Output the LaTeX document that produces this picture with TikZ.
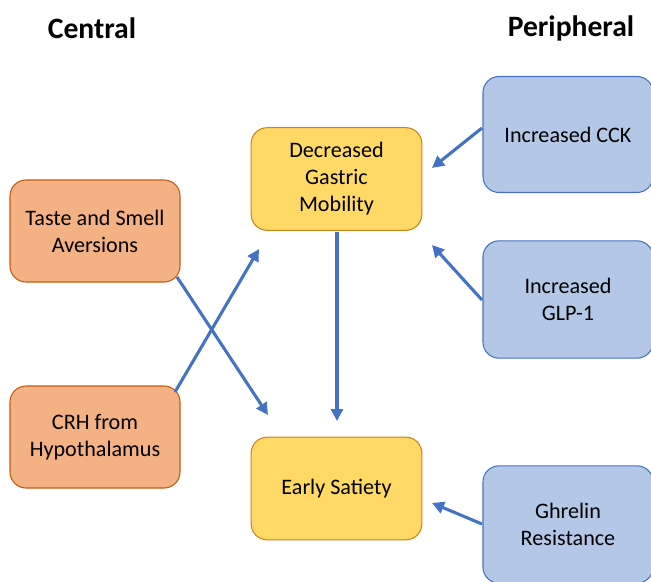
\documentclass[tikz,border=0pt]{standalone}
\usepackage{fontspec}
\setmainfont{Carlito}
\usetikzlibrary{arrows.meta}
\definecolor{orfill}{HTML}{F4B183}
\definecolor{ordraw}{HTML}{C55A11}
\definecolor{yefill}{HTML}{FFD966}
\definecolor{yedraw}{HTML}{C9841A}
\definecolor{blfill}{HTML}{B4C7E7}
\definecolor{bldraw}{HTML}{4472C4}
\definecolor{arr}{HTML}{4472C4}
\tikzset{
  box/.style={rounded corners=12pt, line width=0.8pt, align=center, inner sep=2pt,
    font=\fontsize{16.6}{20.3}\selectfont, text=black},
  orbox/.style={box, fill=orfill, draw=ordraw, minimum width=127.5pt, minimum height=76.5pt},
  yebox/.style={box, fill=yefill, draw=yedraw, minimum width=128pt, minimum height=77pt},
  blbox/.style={box, fill=blfill, draw=bldraw, minimum width=127.5pt, minimum height=87pt},
  header/.style={font=\bfseries\fontsize{22.2}{26}\selectfont},
  link/.style={draw=arr, line width=2.3pt, -{Triangle[length=9pt,width=9pt]}}
}
\begin{document}
\begin{tikzpicture}[x=0.75pt,y=-0.75pt]
\useasboundingbox (0,0) rectangle (651,582);
\node[header] (central) at (92,28) {Central};
\node[header] (peripheral) at (571,28) {Peripheral};
\node[orbox] (taste) at (95,231) {Taste and Smell\\Aversions};
\node[orbox] (crh) at (95,437) {CRH from\\Hypothalamus};
\node[yebox] (dgm) at (336.5,179) {Decreased\\Gastric\\Mobility};
\node[yebox] (es) at (336.5,488.5) {Early Satiety};
\node[blbox] (cck) at (568,134.5) {Increased CCK};
\node[blbox, minimum height=88pt] (glp) at (568,299.5) {Increased\\GLP-1};
\node[blbox, minimum height=88pt] (ghr) at (568,524.5) {Ghrelin\\Resistance};
\coordinate (tasteS) at (177,277);
\coordinate (tasteE) at (268,415);
\coordinate (crhS) at (175,392);
\coordinate (crhE) at (259,249);
\coordinate (dgmS) at (337,232);
\coordinate (dgmE) at (337,421);
\coordinate (cckS) at (482,128);
\coordinate (cckE) at (432,168);
\coordinate (glpS) at (482,300);
\coordinate (glpE) at (432,245);
\coordinate (ghrS) at (482,524);
\coordinate (ghrE) at (432,503);
\draw[link] (tasteS) -- (tasteE);
\draw[link] (crhS) -- (crhE);
\draw[link] (dgmS) -- (dgmE);
\draw[link] (cckS) -- (cckE);
\draw[link] (glpS) -- (glpE);
\draw[link] (ghrS) -- (ghrE);
\end{tikzpicture}
\end{document}
